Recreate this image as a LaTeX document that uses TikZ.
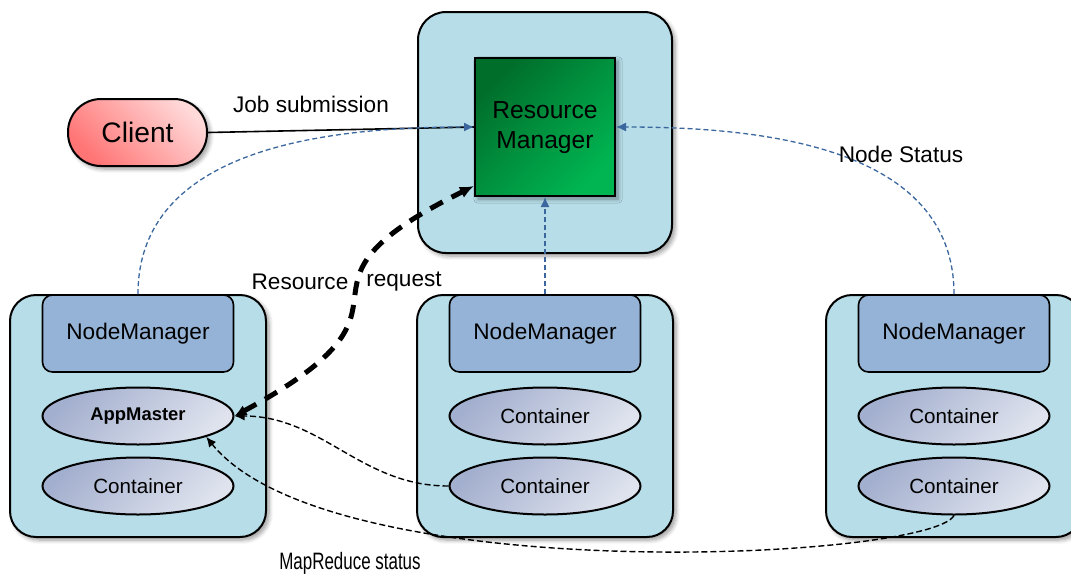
\documentclass[tikz,border=0pt]{standalone}
\usepackage{fontspec}
\setmainfont{Liberation Sans}
\usepackage{xcolor}
\usepackage{graphicx}
\usepackage{tikz}
\usetikzlibrary{shapes.geometric, arrows.meta, shadows.blur}

\definecolor{boxblue}{HTML}{B6DDE8}
\definecolor{nmblue}{HTML}{95B3D7}
\definecolor{linkblue}{HTML}{3B679E}
\definecolor{contdark}{HTML}{A3AFCE}
\definecolor{contlight}{HTML}{DFE3EE}
\definecolor{rmdark}{HTML}{006E2B}
\definecolor{rmlight}{HTML}{00B552}
\definecolor{clientdark}{HTML}{FF7474}
\definecolor{clientlight}{HTML}{FFD8D8}

\begin{document}
\begin{tikzpicture}[x=0.5pt, y=-0.5pt,
    every node/.style={font=\fontsize{11.3}{13.5}\selectfont},
    shade/.style={blur shadow={shadow xshift=1.5pt, shadow yshift=-1.5pt, shadow blur steps=6, shadow opacity=40}},
    outerbox/.style={draw, line width=1pt, fill=boxblue, rounded corners=13pt, minimum width=128pt, minimum height=121pt, shade},
    nmbox/.style={draw, line width=0.8pt, fill=nmblue, rounded corners=5pt, minimum width=95.5pt, minimum height=38.5pt},
    contbox/.style={draw, line width=1pt, ellipse, inner sep=0pt, minimum width=95.5pt, minimum height=28.5pt,
        top color=contdark, bottom color=contlight, shading angle=45, font=\fontsize{10.3}{12}\selectfont},
    status/.style={dash pattern=on 2.5pt off 1.5pt, line width=0.65pt, linkblue, -{Latex[length=5pt, width=4.5pt]}},
    report/.style={dash pattern=on 3pt off 1.5pt, line width=0.7pt, -{Latex[length=5pt, width=4.5pt]}},
]
\useasboundingbox (0,0) rectangle (1071,574);

% Resource manager
\node[draw, line width=1pt, fill=boxblue, rounded corners=14pt, minimum width=127pt, minimum height=120.5pt, shade] (rmbox) at (545,132.5) {};
\node[draw, line width=1pt, minimum width=70pt, minimum height=69pt,
    top color=rmdark, bottom color=rmlight, shading angle=45, shade,
    font=\fontsize{12.3}{15}\selectfont] (rm) at (545,127)
    {\raisebox{-2pt}{\begin{tabular}{@{}c@{}}Resource\\Manager\end{tabular}}};

% Client
\node[draw, line width=1pt, rounded corners=16.5pt, minimum width=69.5pt, minimum height=33.5pt,
    top color=clientlight, bottom color=clientdark, shading angle=-45, shade,
    font=\fontsize{14.1}{16}\selectfont] (cl) at (137.5,132.5) {Client};

% Worker nodes
\foreach \n/\x/\first in {1/138/{\fontsize{9.2}{11}\selectfont\bfseries AppMaster}, 2/545/Container, 3/954/Container} {
    \node[outerbox] (w\n) at (\x,416) {};
    \node[nmbox] (nm\n) at (\x,333.5) {NodeManager};
    \node[contbox] (ca\n) at (\x,416) {\first};
    \node[contbox] (cb\n) at (\x,486) {Container};
}

% Job submission
\draw[line width=0.8pt] (cl.east) -- (rm.west);
\node (job) at (311,104) {Job submission};

% Node status
\draw[status] (nm1.north) to[out=90, in=180] (rm.west);
\draw[status] (nm2.north) -- (rm.south);
\draw[status] (nm3.north) to[out=90, in=0] (rm.east);
\node (ns) at (901,154) {Node Status};

% Resource request
\draw[line width=2.5pt, dash pattern=on 7pt off 5pt, {Latex[length=6pt, width=5.5pt]}-{Latex[length=7pt, width=6pt]}]
    (ca1.east) .. controls (450,300) and (260,292) .. ([yshift=5.5pt]rm.south west);
\node (req1) at (300,282) {Resource};
\node (req2) at (404,282) {request};

% MapReduce status
\draw[report] (cb2.west) to[out=180, in=0] (ca1.east);
\draw[report] (cb3.south) .. controls (930,560) and (330,590) .. (ca1.south east);
\node (mr) at (350,563) {\scalebox{0.75}[1.05]{MapReduce status}};
\end{tikzpicture}
\end{document}
